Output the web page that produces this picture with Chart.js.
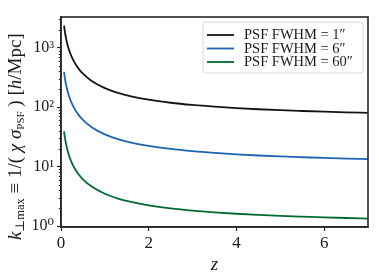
<!DOCTYPE html>
<html>
<head>
<meta charset="utf-8">
<script src="https://cdn.jsdelivr.net/npm/chart.js@4/dist/chart.umd.min.js"></script>
<style>
html,body{margin:0;padding:0;background:#fff;}
#c{display:block;}
</style>
</head>
<body>
<canvas id="c" width="379" height="279"></canvas>
<script>
// ---- data ----
const redshift = [0.07, 0.085, 0.1, 0.12, 0.15, 0.2, 0.25, 0.3, 0.4, 0.5, 0.7, 1.0, 1.3, 1.6, 2.0, 2.5, 3.0, 3.5, 4.0, 4.5, 5.0, 5.5, 6.0, 6.5, 7.0];
const kmaxFWHM1 = [2352, 1944, 1658, 1389, 1119, 850, 688, 581, 447, 367, 277, 210, 174.6, 152.7, 134.0, 119.1, 109.2, 102.1, 96.8, 92.6, 89.2, 86.5, 84.1, 82.1, 80.4];
const kmaxFWHM6 = [392, 324, 276.3, 231.5, 186.5, 141.7, 114.7, 96.8, 74.5, 61.2, 46.2, 35.0, 29.1, 25.45, 22.33, 19.85, 18.2, 17.02, 16.13, 15.43, 14.87, 14.42, 14.02, 13.68, 13.4];
const kmaxFWHM60 = [39.2, 32.4, 27.63, 23.15, 18.65, 14.17, 11.47, 9.68, 7.45, 6.12, 4.62, 3.50, 2.91, 2.545, 2.233, 1.985, 1.82, 1.702, 1.613, 1.543, 1.487, 1.442, 1.402, 1.368, 1.34];
const seriesLabels = ['PSF FWHM = 1\u2033', 'PSF FWHM = 6\u2033', 'PSF FWHM = 60\u2033'];
const xTicks = [0, 2, 4, 6];
const yMajorTicks = [1, 10, 100, 1000];
const yTickLabels = ['10\u2070', '10\u00b9', '10\u00b2', '10\u00b3'];

const colors = ['#141414', '#1f63b1', '#006b30'];
const SERIF = '"Liberation Serif", "DejaVu Serif", serif';

function pts(ys){ return redshift.map((x,i)=>({x:x, y:ys[i]})); }

const frame = {
  id: 'frame',
  afterDraw(chart){
    const ctx = chart.ctx, a = chart.chartArea;
    const ys = chart.scales.y;
    ctx.save();
    // minor ticks on log axis
    ctx.strokeStyle = '#262626';
    ctx.lineWidth = 1;
    for (let e = 0; e <= 3; e++) {
      for (let m = 2; m <= 9; m++) {
        const v = m * Math.pow(10, e);
        if (v < ys.min || v > ys.max) continue;
        const py = Math.round(ys.getPixelForValue(v)) + 0.5;
        ctx.beginPath(); ctx.moveTo(a.left - 2.2, py); ctx.lineTo(a.left, py); ctx.stroke();
      }
    }
    // box
    ctx.lineWidth = 1.6;
    ctx.strokeStyle = '#262626';
    ctx.strokeRect(a.left, a.top, a.right - a.left, a.bottom - a.top);

    // legend
    const lx = 203, ly = 22, lw = 160, lh = 51;
    ctx.beginPath();
    const r = 3;
    ctx.moveTo(lx + r, ly); ctx.lineTo(lx + lw - r, ly); ctx.quadraticCurveTo(lx + lw, ly, lx + lw, ly + r);
    ctx.lineTo(lx + lw, ly + lh - r); ctx.quadraticCurveTo(lx + lw, ly + lh, lx + lw - r, ly + lh);
    ctx.lineTo(lx + r, ly + lh); ctx.quadraticCurveTo(lx, ly + lh, lx, ly + lh - r);
    ctx.lineTo(lx, ly + r); ctx.quadraticCurveTo(lx, ly, lx + r, ly);
    ctx.closePath();
    ctx.fillStyle = 'rgba(255,255,255,0.85)';
    ctx.fill();
    ctx.strokeStyle = '#d9d9d9'; ctx.lineWidth = 1;
    ctx.stroke();
    const rows = [35, 48.5, 62];
    chart.data.datasets.forEach((ds, i) => {
      ctx.strokeStyle = ds.borderColor; ctx.lineWidth = 1.8;
      ctx.beginPath(); ctx.moveTo(207, rows[i]); ctx.lineTo(234, rows[i]); ctx.stroke();
      ctx.fillStyle = '#1a1a1a';
      ctx.font = '14.5px ' + SERIF;
      ctx.textBaseline = 'middle'; ctx.textAlign = 'left';
      ctx.fillText(ds.label, 244, rows[i] + 0.5);
    });

    // y-axis title (rich text, rotated)
    ctx.translate(15, 240);
    ctx.rotate(-Math.PI / 2);
    ctx.textBaseline = 'alphabetic'; ctx.textAlign = 'left';
    ctx.fillStyle = '#1a1a1a';
    const F = 19;
    const segs = [
      {t:'k', f:'italic ' + F + 'px ' + SERIF, dy:6},
      {t:'\u22a5max', f:'12.5px ' + SERIF, dy:9},
      {t:' \u2261 1/( ', f:F + 'px ' + SERIF, dy:6},
      {t:'\u03c7', f:'italic ' + F + 'px ' + SERIF, dy:6},
      {t:' ', f:F + 'px ' + SERIF, dy:6},
      {t:'\u03c3', f:'italic ' + F + 'px ' + SERIF, dy:6},
      {t:'PSF', f:'11px ' + SERIF, dy:9},
      {t:' ) [', f:F + 'px ' + SERIF, dy:6},
      {t:'h', f:'italic ' + F + 'px ' + SERIF, dy:6},
      {t:'/Mpc]', f:F + 'px ' + SERIF, dy:6}
    ];
    let x = 0;
    segs.forEach(s => {
      ctx.font = s.f;
      ctx.fillText(s.t, x, s.dy);
      x += ctx.measureText(s.t).width;
    });
    ctx.restore();
  }
};

new Chart(document.getElementById('c'), {
  type: 'line',
  data: {
    datasets: [
      {label: seriesLabels[0], data: pts(kmaxFWHM1), borderColor: colors[0]},
      {label: seriesLabels[1], data: pts(kmaxFWHM6), borderColor: colors[1]},
      {label: seriesLabels[2], data: pts(kmaxFWHM60), borderColor: colors[2]}
    ]
  },
  options: {
    responsive: false,
    animation: false,
    devicePixelRatio: 1,
    layout: {padding: {left: 0, right: 11, top: 17, bottom: 0}},
    elements: {
      point: {radius: 0},
      line: {borderWidth: 1.8, cubicInterpolationMode: 'monotone', fill: false}
    },
    plugins: {legend: {display: false}, tooltip: {enabled: false}},
    scales: {
      x: {
        type: 'linear', min: 0, max: 7,
        afterBuildTicks: s => { s.ticks = xTicks.map(v => ({value: v})); },
        afterFit: s => { s.height = 52; },
        grid: {drawOnChartArea: false, drawTicks: true, tickLength: 4, color: '#262626', tickWidth: 1.2},
        border: {display: true, color: '#262626', width: 1.6},
        ticks: {color: '#1a1a1a', font: {family: SERIF, size: 17}, padding: 2, maxRotation: 0},
        title: {display: true, text: 'z', color: '#1a1a1a', font: {family: SERIF, size: 19, style: 'italic'}, padding: {top: 0, bottom: 3}}
      },
      y: {
        type: 'logarithmic', min: 0.966, max: 3300,
        afterBuildTicks: s => { s.ticks = yMajorTicks.map(v => ({value: v, major: true})); },
        afterFit: s => { s.width = 61; },
        grid: {drawOnChartArea: false, drawTicks: true, tickLength: 4, color: '#262626', tickWidth: 1.2},
        border: {display: true, color: '#262626', width: 1.6},
        ticks: {
          color: '#1a1a1a', font: {family: SERIF, size: 16}, padding: 3,
          callback: (v) => { const i = yMajorTicks.indexOf(v); return i >= 0 ? yTickLabels[i] : ''; }
        }
      }
    }
  },
  plugins: [frame]
});
</script>
</body>
</html>
